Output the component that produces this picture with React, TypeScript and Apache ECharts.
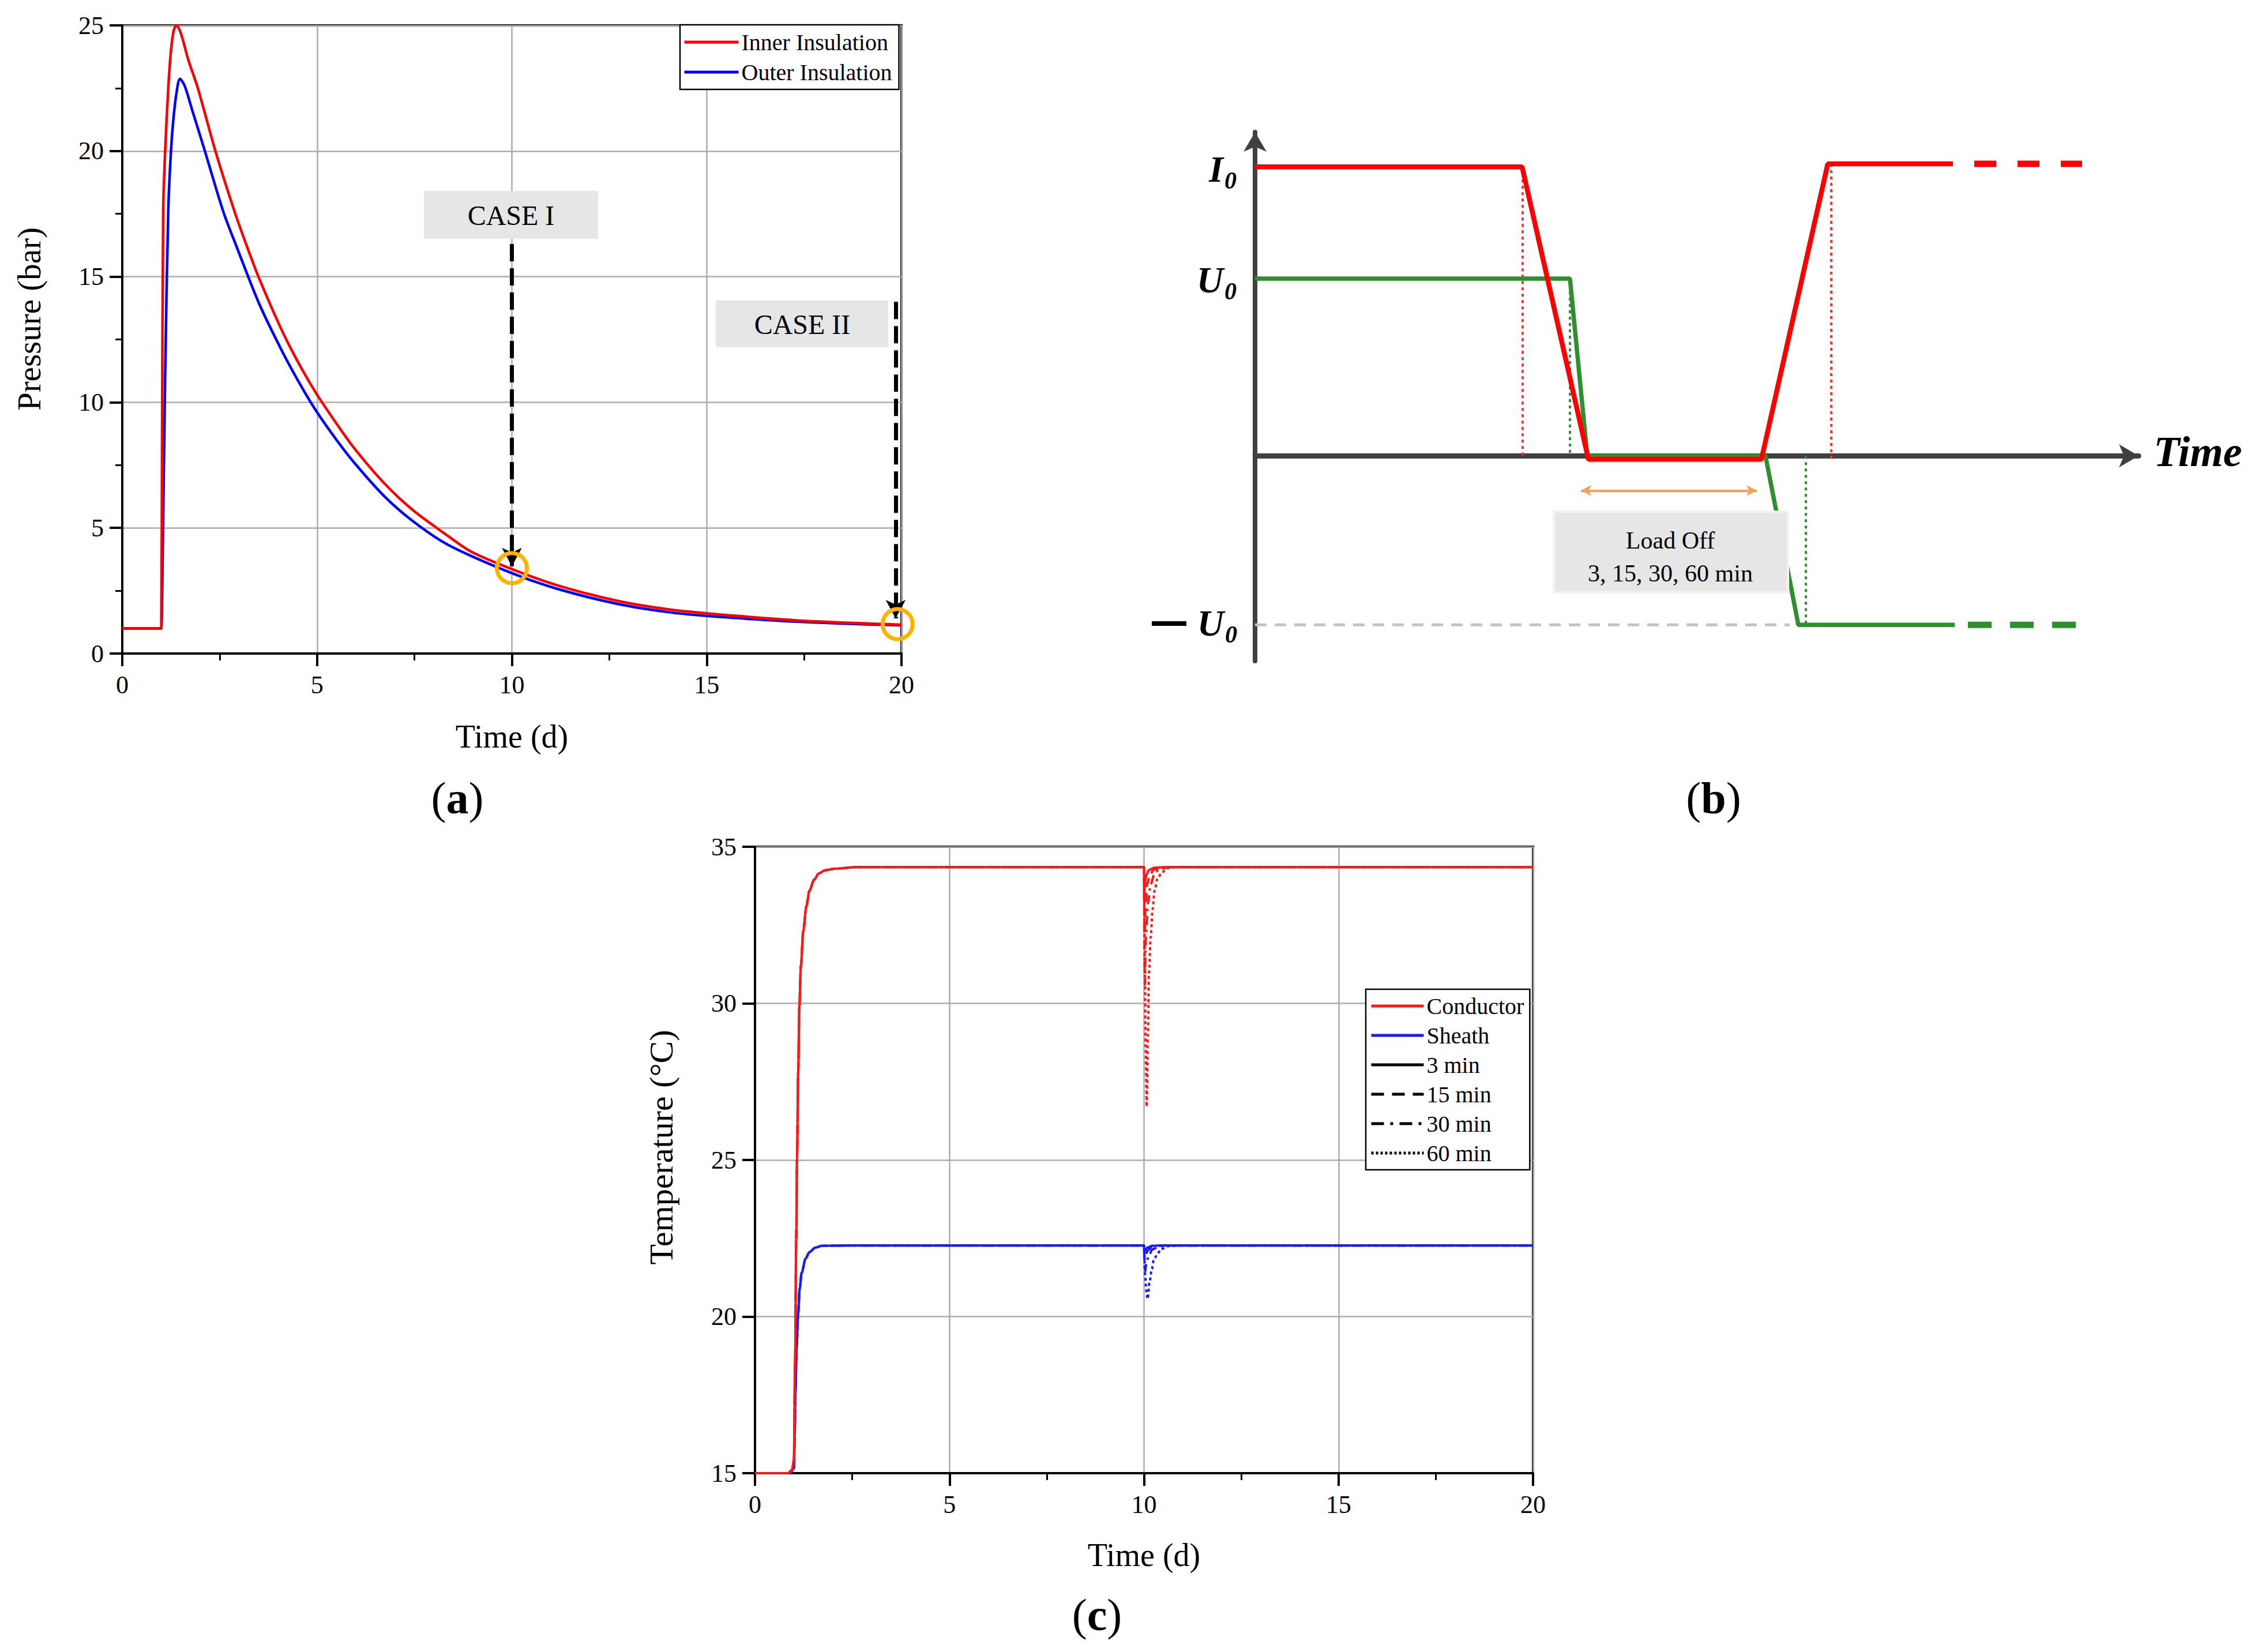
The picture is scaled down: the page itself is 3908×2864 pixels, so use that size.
import React, { useEffect, useRef } from "react";
import * as echarts from "echarts";

type Pt = [number, number];

const W = 3908;
const H = 2864;
const FONT = "'Liberation Serif', 'Times New Roman', serif";

// ---------- Panel (a): Pressure (bar) vs Time (d) ----------
const innerInsulation: Pt[] = [
  [0, 1], [0.98, 1], [1.0, 1], [1.02, 8], [1.05, 17.6], [1.1, 20.0], [1.18, 22.5], [1.25, 24.0], [1.32, 24.8],
  [1.39, 25.0], [1.5, 24.7], [1.7, 23.6], [1.94, 22.5], [2.39, 20.0], [2.88, 17.6], [3.2, 16.2],
  [3.52, 14.9], [4.13, 12.75], [4.6, 11.35], [5.0, 10.3], [5.5, 9.15], [5.94, 8.2], [6.7, 6.82],
  [7.45, 5.72], [8.36, 4.68], [8.96, 4.05], [10, 3.36], [11.2, 2.7], [12.7, 2.1], [14, 1.76],
  [15, 1.6], [17.3, 1.32], [20, 1.15],
];
const outerInsulation: Pt[] = [
  [0, 1], [0.98, 1], [1.0, 1], [1.04, 4.2], [1.1, 11.0], [1.18, 17.6], [1.25, 20.0], [1.32, 21.4], [1.4, 22.4],
  [1.48, 22.87], [1.6, 22.6], [1.8, 21.6], [2.12, 20.0], [2.59, 17.6], [2.92, 16.25], [3.52, 13.9],
  [4.13, 11.95], [4.6, 10.62], [5.0, 9.6], [5.5, 8.5], [5.94, 7.62], [6.7, 6.3], [7.45, 5.28],
  [8.36, 4.33], [10, 3.2], [11.2, 2.56], [12.7, 1.98], [14, 1.65], [15, 1.5], [17.3, 1.27], [20, 1.12],
];
const legendA = ["Inner Insulation", "Outer Insulation"];
const caseArrows: [Pt, Pt][] = [
  [[10, 16.3], [10, 3.47]],
  [[19.85, 14.0], [19.85, 1.4]],
];
const caseCircles: Pt[] = [[10, 3.4], [19.9, 1.17]];

// ---------- Panel (c): Temperature (°C) vs Time (d) ----------
const conductorRise: Pt[] = [
  [0, 15], [0.85, 15], [0.95, 15.1], [1.0, 15.4], [1.03, 18.5], [1.06, 22.5], [1.08, 25], [1.11, 27.8],
  [1.14, 29.9], [1.18, 31.2], [1.24, 32.3], [1.32, 33.1], [1.4, 33.6], [1.52, 33.95], [1.64, 34.15],
  [1.8, 34.25], [2.04, 34.3], [2.6, 34.35], [10, 34.35],
];
const conductorDip3: Pt[] = [[10.002, 33.3], [10.02, 33.8], [10.06, 34.1], [10.12, 34.25], [10.25, 34.33], [10.5, 34.35]];
const conductorDip15: Pt[] = [[10.0104, 32.2], [10.04, 33.2], [10.08, 33.8], [10.15, 34.1], [10.25, 34.27], [10.45, 34.34], [10.7, 34.35]];
const conductorDip30: Pt[] = [[10.021, 30.6], [10.05, 32.2], [10.1, 33.2], [10.17, 33.8], [10.27, 34.15], [10.4, 34.3], [10.7, 34.35]];
const conductorDip60: Pt[] = [
  [10.02, 31.0], [10.045, 28.5], [10.068, 26.7], [10.1, 29.0], [10.124, 30.9], [10.17, 32.1], [10.22, 33.0],
  [10.27, 33.6], [10.35, 34.0], [10.47, 34.2], [10.64, 34.33], [10.9, 34.35],
];
const conductorTail: Pt[] = [[11, 34.35], [20, 34.35]];

const sheathRise: Pt[] = [
  [0, 15], [0.9, 15], [1.0, 15.15], [1.02, 16.2], [1.04, 17.6], [1.07, 19.0], [1.11, 20.1], [1.15, 20.9],
  [1.2, 21.4], [1.3, 21.85], [1.4, 22.06], [1.55, 22.2], [1.72, 22.26], [2.5, 22.27], [10, 22.27],
];
const sheathDip3: Pt[] = [[10.003, 22.05], [10.03, 22.12], [10.08, 22.2], [10.2, 22.26], [10.4, 22.27]];
const sheathDip15: Pt[] = [[10.011, 21.85], [10.05, 22.0], [10.1, 22.12], [10.2, 22.22], [10.4, 22.27]];
const sheathDip30: Pt[] = [[10.022, 21.4], [10.06, 21.7], [10.12, 21.95], [10.22, 22.15], [10.4, 22.25], [10.6, 22.27]];
const sheathDip60: Pt[] = [
  [10.03, 21.3], [10.06, 20.8], [10.09, 20.56], [10.148, 21.15], [10.2, 21.52], [10.25, 21.8],
  [10.32, 21.94], [10.44, 22.16], [10.64, 22.25], [10.9, 22.27],
];
const sheathTail: Pt[] = [[11, 22.27], [20, 22.27]];
const legendC = ["Conductor", "Sheath", "3 min", "15 min", "30 min", "60 min"];

// ---------- Panel (b): schematic (arbitrary units) ----------
const currentSolid: Pt[] = [[0, 1], [4.63, 1], [5.78, -0.012], [8.78, -0.012], [9.93, 1.01], [12.1, 1.01]];
const currentDashed: Pt[] = [[12.1, 1.01], [14.34, 1.01]];
const voltageSolid: Pt[] = [[0, 0.613], [5.46, 0.613], [5.76, 0], [8.85, 0], [9.42, -0.585], [12.13, -0.585]];
const voltageDashed: Pt[] = [[12.13, -0.585], [14.23, -0.585]];
const currentMarks: Pt[][] = [[[4.64, 1], [4.64, 0]], [[9.99, 1.01], [9.99, -0.02]]];
const voltageMarks: Pt[][] = [[[5.46, 0.613], [5.46, 0]], [[9.55, 0], [9.55, -0.585]]];
const negLevel: Pt[] = [[0, -0.585], [9.27, -0.585]];
const loadOffSpan: Pt[] = [[5.65, -0.12], [8.7, -0.12]];

function valueAxisA(opts: any) {
  return {
    type: "value",
    axisLine: { show: true, onZero: false, lineStyle: { color: "#000", width: 4 } },
    axisTick: { show: true, inside: false, length: 22, lineStyle: { color: "#000", width: 4 } },
    axisLabel: { fontFamily: FONT, fontSize: 44, color: "#000", margin: 32 },
    splitLine: { show: true, lineStyle: { color: "#ababab", width: 2.5 } },
    nameTextStyle: { fontFamily: FONT, fontSize: 56, color: "#000" },
    nameLocation: "middle",
    ...opts,
  };
}

const minor = { show: true, splitNumber: 2, length: 12, lineStyle: { color: "#000", width: 3 } };

function lineSeries(name: string, data: Pt[], color: string, width: number, type: any, axis: number, extra: any = {}) {
  return {
    type: "line",
    name,
    data,
    xAxisIndex: axis,
    yAxisIndex: axis,
    symbol: "none",
    showSymbol: false,
    silent: true,
    color,
    lineStyle: { color, width, type },
    ...extra,
  };
}

const smoothA = { smooth: 0.3 };
const smoothC = { smooth: 0.3, smoothMonotone: "x" };

export default function App() {
  const ref = useRef<HTMLDivElement>(null);
  useEffect(() => {
    document.body.style.margin = "0";
    if (!ref.current) return;
    const chart = echarts.init(ref.current, null, { renderer: "svg", width: W, height: H });

    const red = "#FF0000";
    const blue = "#0000FF";
    const redC = "#FF1616";
    const blueC = "#1A1AFF";
    const green = "#2F8F2F";
    const dark = "#404040";

    const series: any[] = [
      // (a)
      lineSeries(legendA[1], outerInsulation, blue, 4.5, "solid", 0, smoothA),
      lineSeries(legendA[0], innerInsulation, red, 4.5, "solid", 0, {
        ...smoothA,
        markLine: {
          silent: true,
          symbol: ["none", "arrow"],
          symbolSize: [26, 32],
          label: { show: false },
          lineStyle: { color: "#000", width: 7, type: [30, 12] },
          data: caseArrows.map(([s, e]) => [{ coord: s }, { coord: e }]),
        },
        markPoint: {
          silent: true,
          symbol: "circle",
          symbolSize: 52,
          label: { show: false },
          itemStyle: { color: "rgba(0,0,0,0)", borderColor: "#FFB300", borderWidth: 7 },
          data: caseCircles.map((c) => ({ coord: c })),
        },
      }),
      // (c)
      lineSeries("Sheath 60 min", [...sheathRise, ...sheathDip60, ...sheathTail], blueC, 4, [5, 5], 1, smoothC),
      lineSeries("Sheath 30 min", [...sheathRise, ...sheathDip30, ...sheathTail], blueC, 4, [16, 8, 4, 8], 1, smoothC),
      lineSeries("Sheath 15 min", [...sheathRise, ...sheathDip15, ...sheathTail], blueC, 4, [16, 10], 1, smoothC),
      lineSeries("Sheath", [...sheathRise, ...sheathDip3, ...sheathTail], blueC, 4, "solid", 1, smoothC),
      lineSeries("Conductor 60 min", [...conductorRise, ...conductorDip60, ...conductorTail], redC, 4, [5, 5], 1, smoothC),
      lineSeries("Conductor 30 min", [...conductorRise, ...conductorDip30, ...conductorTail], redC, 4, [16, 8, 4, 8], 1, smoothC),
      lineSeries("Conductor 15 min", [...conductorRise, ...conductorDip15, ...conductorTail], redC, 4, [16, 10], 1, smoothC),
      lineSeries("Conductor", [...conductorRise, ...conductorDip3, ...conductorTail], redC, 4, "solid", 1, smoothC),
      lineSeries("3 min", [], "#000", 4, "solid", 1),
      lineSeries("15 min", [], "#000", 4, [22, 14], 1),
      lineSeries("30 min", [], "#000", 4, [22, 11, 5, 11], 1),
      lineSeries("60 min", [], "#000", 4, [4, 4], 1),
      // (b)
      lineSeries("-U0 level", negLevel, "#c4c4c4", 5, [20, 14], 2),
      ...currentMarks.map((d, i) => lineSeries("I mark " + i, d, "#FF3030", 4, [5, 6], 2)),
      ...voltageMarks.map((d, i) => lineSeries("U mark " + i, d, "#2F8F2F", 4, [5, 6], 2)),
      lineSeries("Voltage", voltageSolid, green, 7.5, "solid", 2),
      lineSeries("Voltage cont.", voltageDashed, green, 11, [41, 32], 2, { lineStyle: { color: green, width: 11, type: [41, 32], dashOffset: 50 } }),
      lineSeries("Current", currentSolid, red, 8.5, "solid", 2),
      lineSeries("Current cont.", currentDashed, red, 11, [38, 37], 2, { lineStyle: { color: red, width: 11, type: [38, 37], dashOffset: 38 } }),
      lineSeries("Load off", [], "#F5A05A", 4, "solid", 2, {
        markLine: {
          silent: true,
          symbol: ["arrow", "arrow"],
          symbolSize: [14, 18],
          label: { show: false },
          lineStyle: { color: "#F5A05A", width: 4, type: "solid" },
          data: [[{ coord: loadOffSpan[0] }, { coord: loadOffSpan[1] }]],
        },
      }),
    ];

    const txt = (text: string, x: number, y: number, size: number, extra: any = {}, elExtra: any = {}) => ({
      type: "text",
      z: 100,
      x,
      y,
      ...elExtra,
      style: {
        text,
        fontFamily: FONT,
        fontSize: size,
        fill: "#000",
        align: "center",
        verticalAlign: "middle",
        ...extra,
      },
    });

    const panelLabel = (letter: string, x: number, y: number) => ({
      type: "text",
      z: 100,
      x,
      y,
      style: {
        text: "{p|(}{b|" + letter + "}{p|)}",
        align: "center",
        verticalAlign: "middle",
        rich: {
          p: { fontFamily: FONT, fontSize: 78, fill: "#000", color: "#000" },
          b: { fontFamily: FONT, fontSize: 78, fontWeight: "bold", fill: "#000", color: "#000" },
        },
      },
    });

    const bi = { fontWeight: "bold", fontStyle: "italic" };

    const legendCommon = {
      orient: "vertical",
      itemHeight: 1,
      selectedMode: false,
      backgroundColor: "#fff",
      borderColor: "#000",
      borderWidth: 2.5,
      borderRadius: 0,
      lineStyle: { width: 5 },
    };

    const option: any = {
      animation: false,
      backgroundColor: "#fff",
      grid: [
        { left: 212, top: 44, width: 1351, height: 1089, show: true, borderColor: "#000", borderWidth: 4, containLabel: false },
        { left: 1309, top: 1468, width: 1349, height: 1086, show: true, borderColor: "#000", borderWidth: 4, containLabel: false },
        { left: 2176, top: 229, width: 1532, height: 917, show: false, containLabel: false },
      ],
      xAxis: [
        valueAxisA({ gridIndex: 0, min: 0, max: 20, interval: 5, name: "Time (d)", nameGap: 116, minorTick: minor }),
        valueAxisA({ gridIndex: 1, min: 0, max: 20, interval: 5, name: "Time (d)", nameGap: 114, minorTick: minor }),
        {
          gridIndex: 2, type: "value", min: 0, max: 15.32,
          axisLine: { show: true, onZero: true, symbol: ["none", "arrow"], symbolSize: [30, 34], lineStyle: { color: dark, width: 9 } },
          axisTick: { show: false }, axisLabel: { show: false }, splitLine: { show: false },
        },
      ],
      yAxis: [
        valueAxisA({ gridIndex: 0, min: 0, max: 25, interval: 5, minorTick: minor }),
        valueAxisA({ gridIndex: 1, min: 15, max: 35, interval: 5 }),
        {
          gridIndex: 2, type: "value", min: -0.71, max: 1.12,
          axisLine: { show: true, onZero: true, symbol: ["none", "arrow"], symbolSize: [30, 34], lineStyle: { color: dark, width: 8 } },
          axisTick: { show: false }, axisLabel: { show: false }, splitLine: { show: false },
        },
      ],
      legend: [
        {
          ...legendCommon,
          data: legendA,
          left: 1179,
          top: 43,
          padding: [8, 12, 8, 5],
          itemGap: 8,
          itemWidth: 94,
          textStyle: { fontFamily: FONT, fontSize: 40, color: "#000", lineHeight: 44 },
        },
        {
          ...legendCommon,
          data: legendC,
          left: 2368,
          top: 1715,
          padding: [8, 10, 8, 7],
          itemGap: 9,
          itemWidth: 91,
          textStyle: { fontFamily: FONT, fontSize: 40, color: "#000", lineHeight: 42 },
        },
      ],
      series,
      graphic: [
        // y axis titles
        txt("Pressure (bar)", 50, 553, 57, {}, { rotation: Math.PI / 2 }),
        txt("Temperature (°C)", 1146, 1989, 58, {}, { rotation: Math.PI / 2 }),
        // CASE boxes (a)
        { type: "rect", z: 100, shape: { x: 735, y: 331, width: 302, height: 83 }, style: { fill: "#e6e6e6" } },
        txt("CASE I", 886, 373, 48),
        { type: "rect", z: 100, shape: { x: 1241, y: 521, width: 299, height: 81 }, style: { fill: "#e6e6e6" } },
        txt("CASE II", 1391, 562, 48),
        // Load off box (b)
        { type: "rect", z: 100, shape: { x: 2694, y: 887, width: 406, height: 140 }, style: { fill: "#e6e6e6", stroke: "#f3f3f3", lineWidth: 4 } },
        txt("Load Off", 2896, 937, 42),
        txt("3, 15, 30, 60 min", 2896, 994, 42),
        // (b) axis labels
        txt("I", 2121, 293, 64, { ...bi, align: "right" }),
        txt("0", 2123, 313, 42, { ...bi, align: "left" }),
        txt("U", 2121, 485, 64, { ...bi, align: "right" }),
        txt("0", 2123, 505, 42, { ...bi, align: "left" }),
        { type: "rect", z: 100, shape: { x: 1997, y: 1077, width: 60, height: 8 }, style: { fill: "#000" } },
        txt("U", 2122, 1080, 64, { ...bi, align: "right" }),
        txt("0", 2124, 1100, 42, { ...bi, align: "left" }),
        txt("Time", 3734, 783, 74, { ...bi, align: "left" }),
        // panel labels
        panelLabel("a", 793, 1383),
        panelLabel("b", 2971, 1383),
        panelLabel("c", 1902, 2799),
      ],
    };

    chart.setOption(option);
    return () => chart.dispose();
  }, []);

  return <div ref={ref} style={{ width: W, height: H }} />;
}
